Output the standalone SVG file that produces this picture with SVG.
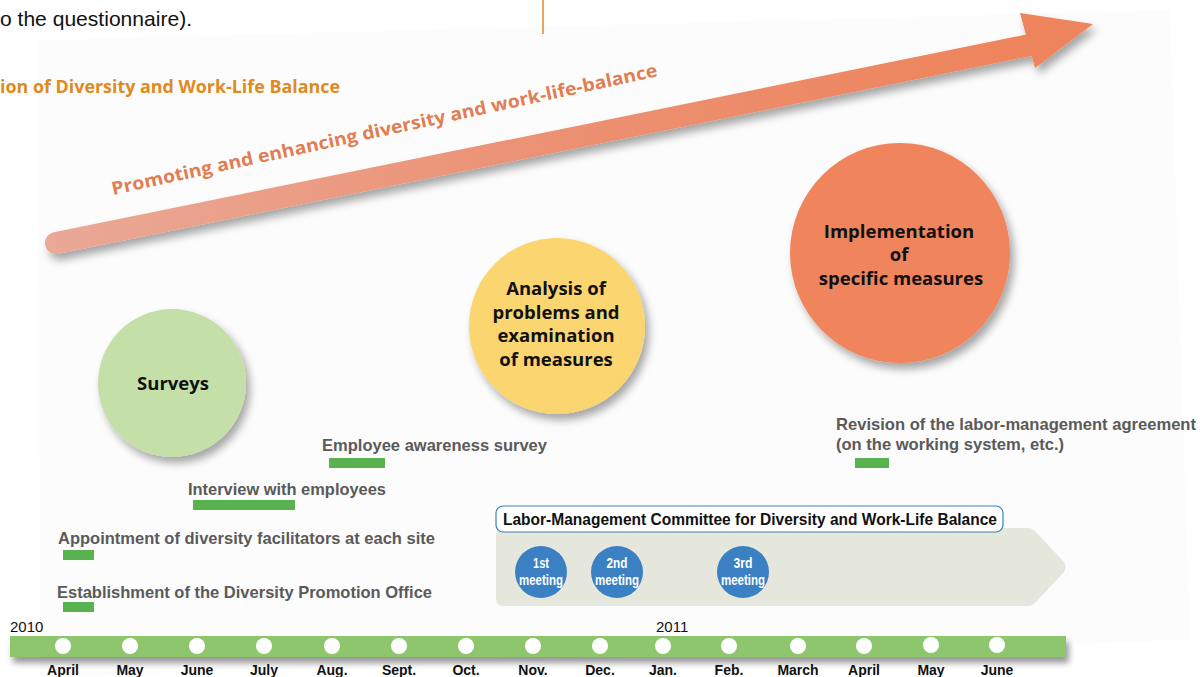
<svg xmlns="http://www.w3.org/2000/svg" width="1204" height="677" viewBox="0 0 1204 677">
<defs>
<linearGradient id="shaftGrad" x1="0" y1="0" x2="1" y2="0">
<stop offset="0" stop-color="#eaa896"/>
<stop offset="0.5" stop-color="#ec9173"/>
<stop offset="1" stop-color="#ee845c"/>
</linearGradient>
<filter id="sh" x="-20%" y="-20%" width="150%" height="150%">
<feGaussianBlur in="SourceAlpha" stdDeviation="4"/>
<feOffset dx="4" dy="6" result="b"/>
<feComponentTransfer><feFuncA type="linear" slope="0.35"/></feComponentTransfer>
<feMerge><feMergeNode/><feMergeNode in="SourceGraphic"/></feMerge>
</filter>
<filter id="shs" x="-5%" y="-50%" width="110%" height="250%">
<feGaussianBlur in="SourceAlpha" stdDeviation="3"/>
<feOffset dx="3" dy="6" result="b"/>
<feComponentTransfer><feFuncA type="linear" slope="0.4"/></feComponentTransfer>
<feMerge><feMergeNode/><feMergeNode in="SourceGraphic"/></feMerge>
</filter>
</defs>
<style>
.circ{font-family:"Open Sans","Noto Sans",sans-serif;font-weight:bold;font-size:18.5px;fill:#111;text-anchor:middle}
.act{font-family:"Liberation Sans",Arial,sans-serif;font-weight:bold;font-size:17px;fill:#5a5a5a}
.bar{fill:#58b24f}
.mon{font-family:"Liberation Sans",Arial,sans-serif;font-weight:bold;font-size:14px;fill:#111;text-anchor:middle}
.yr{font-family:"Liberation Sans",Arial,sans-serif;font-size:15px;fill:#111}
.dot{fill:#ffffff}
.meet{fill:#3c80c4}
.mt{font-family:"Liberation Sans",Arial,sans-serif;font-weight:bold;font-size:14px;fill:#ffffff;text-anchor:middle}
</style>
<rect width="1204" height="677" fill="#ffffff"/>
<polygon points="38,40 1170,10 1190,640 40,677" fill="#fcfcfc"/>

<g id="header">
<text x="0" y="26" font-family="Liberation Sans,Arial,sans-serif" font-size="21" fill="#111" textLength="192" lengthAdjust="spacingAndGlyphs">o the questionnaire).</text>
<text x="0" y="93" font-family="Open Sans,Noto Sans,sans-serif" font-weight="bold" font-size="17" fill="#e08a1c" textLength="340" lengthAdjust="spacingAndGlyphs">ion of Diversity and Work-Life Balance</text>
<line x1="543" y1="0" x2="543" y2="34" stroke="#e08a1c" stroke-width="1.5"/>
</g>

<g id="trend-arrow" filter="url(#sh)">
<line x1="56" y1="243" x2="1030" y2="45" stroke="url(#shaftGrad)" stroke-width="22" stroke-linecap="round"/>
<polygon points="1020,13 1093,24 1035,68" fill="#ee845c"/>
</g>
<text x="0" y="0" transform="translate(113,195) rotate(-12.3)" font-family="Open Sans,Noto Sans,sans-serif" font-weight="bold" font-size="18" fill="#e27c52" textLength="558" lengthAdjust="spacingAndGlyphs">Promoting and enhancing diversity and work-life-balance</text>

<g id="node-surveys">
<circle cx="172" cy="383" r="74" fill="#c5dfa9" filter="url(#sh)"/>
<text class="circ" x="173" y="390">Surveys</text>
</g>

<g id="node-analysis">
<circle cx="557" cy="326" r="88" fill="#fad56f" filter="url(#sh)"/>
<text class="circ" x="556" y="295">Analysis of</text>
<text class="circ" x="556" y="319">problems and</text>
<text class="circ" x="556" y="342">examination</text>
<text class="circ" x="556" y="366">of measures</text>
</g>

<g id="node-implementation">
<circle cx="900" cy="253" r="110" fill="#ef845d" filter="url(#sh)"/>
<text class="circ" x="899" y="238">Implementation</text>
<text class="circ" x="899" y="261">of</text>
<text class="circ" x="901" y="285">specific measures</text>
</g>

<g id="act-awareness">
<text class="act" x="322" y="451" textLength="225" lengthAdjust="spacingAndGlyphs">Employee awareness survey</text>
<rect class="bar" x="329" y="458" width="56" height="10"/>
</g>
<g id="act-interview">
<text class="act" x="188" y="495" textLength="198" lengthAdjust="spacingAndGlyphs">Interview with employees</text>
<rect class="bar" x="193" y="500" width="102" height="10"/>
</g>
<g id="act-facilitators">
<text class="act" x="58" y="544" textLength="377" lengthAdjust="spacingAndGlyphs">Appointment of diversity facilitators at each site</text>
<rect class="bar" x="63" y="550" width="31" height="10"/>
</g>
<g id="act-office">
<text class="act" x="57" y="598" textLength="375" lengthAdjust="spacingAndGlyphs">Establishment of the Diversity Promotion Office</text>
<rect class="bar" x="63" y="602" width="31" height="10"/>
</g>
<g id="act-revision">
<text class="act" x="836" y="430" textLength="360" lengthAdjust="spacingAndGlyphs">Revision of the labor-management agreement</text>
<text class="act" x="836" y="450" textLength="228" lengthAdjust="spacingAndGlyphs">(on the working system, etc.)</text>
<rect class="bar" x="855" y="458" width="34" height="10"/>
</g>

<g id="committee">
<path d="M503,528 H1028 Q1032,528 1036,532 L1064,562 Q1067,567 1064,572 L1036,602 Q1032,606 1028,606 H503 Q496,606 496,599 V535 Q496,528 503,528 Z" fill="#e6e7dc"/>
<rect x="496" y="506" width="507" height="26" rx="7" fill="#ffffff" stroke="#3a7fc1" stroke-width="1.2"/>
<text x="503" y="525" font-family="Liberation Sans,Arial,sans-serif" font-weight="bold" font-size="17" fill="#111" textLength="494" lengthAdjust="spacingAndGlyphs">Labor-Management Committee for Diversity and Work-Life Balance</text>
</g>
<g id="meeting-1">
<circle class="meet" cx="541" cy="572" r="26"/>
<text class="mt" x="541" y="568" textLength="16" lengthAdjust="spacingAndGlyphs">1st</text>
<text class="mt" x="541" y="585" textLength="44" lengthAdjust="spacingAndGlyphs">meeting</text>
</g>
<g id="meeting-2">
<circle class="meet" cx="617" cy="572" r="26"/>
<text class="mt" x="617" y="568" textLength="21" lengthAdjust="spacingAndGlyphs">2nd</text>
<text class="mt" x="617" y="585" textLength="44" lengthAdjust="spacingAndGlyphs">meeting</text>
</g>
<g id="meeting-3">
<circle class="meet" cx="743" cy="572" r="26"/>
<text class="mt" x="743" y="568" textLength="19" lengthAdjust="spacingAndGlyphs">3rd</text>
<text class="mt" x="743" y="585" textLength="44" lengthAdjust="spacingAndGlyphs">meeting</text>
</g>

<g id="timeline">
<rect x="10" y="636" width="1056" height="21" fill="#8dc66d" filter="url(#shs)"/>
<text class="yr" x="10" y="632">2010</text>
<text class="yr" x="656" y="632">2011</text>
<circle class="dot" cx="63" cy="646" r="8"/>
<circle class="dot" cx="130" cy="646" r="8"/>
<circle class="dot" cx="197" cy="646" r="8"/>
<circle class="dot" cx="264" cy="646" r="8"/>
<circle class="dot" cx="332" cy="646" r="8"/>
<circle class="dot" cx="399" cy="646" r="8"/>
<circle class="dot" cx="466" cy="646" r="8"/>
<circle class="dot" cx="533" cy="646" r="8"/>
<circle class="dot" cx="600" cy="646" r="8"/>
<circle class="dot" cx="663" cy="646" r="8"/>
<circle class="dot" cx="729" cy="646" r="8"/>
<circle class="dot" cx="798" cy="646" r="8"/>
<circle class="dot" cx="864" cy="646" r="8"/>
<circle class="dot" cx="931" cy="645" r="8"/>
<circle class="dot" cx="997" cy="645" r="8"/>
<text class="mon" x="63" y="675">April</text>
<text class="mon" x="130" y="675">May</text>
<text class="mon" x="197" y="675">June</text>
<text class="mon" x="264" y="675">July</text>
<text class="mon" x="332" y="675">Aug.</text>
<text class="mon" x="399" y="675">Sept.</text>
<text class="mon" x="466" y="675">Oct.</text>
<text class="mon" x="533" y="675">Nov.</text>
<text class="mon" x="600" y="675">Dec.</text>
<text class="mon" x="663" y="675">Jan.</text>
<text class="mon" x="729" y="675">Feb.</text>
<text class="mon" x="798" y="675">March</text>
<text class="mon" x="864" y="675">April</text>
<text class="mon" x="931" y="675">May</text>
<text class="mon" x="997" y="675">June</text>
</g>
</svg>
